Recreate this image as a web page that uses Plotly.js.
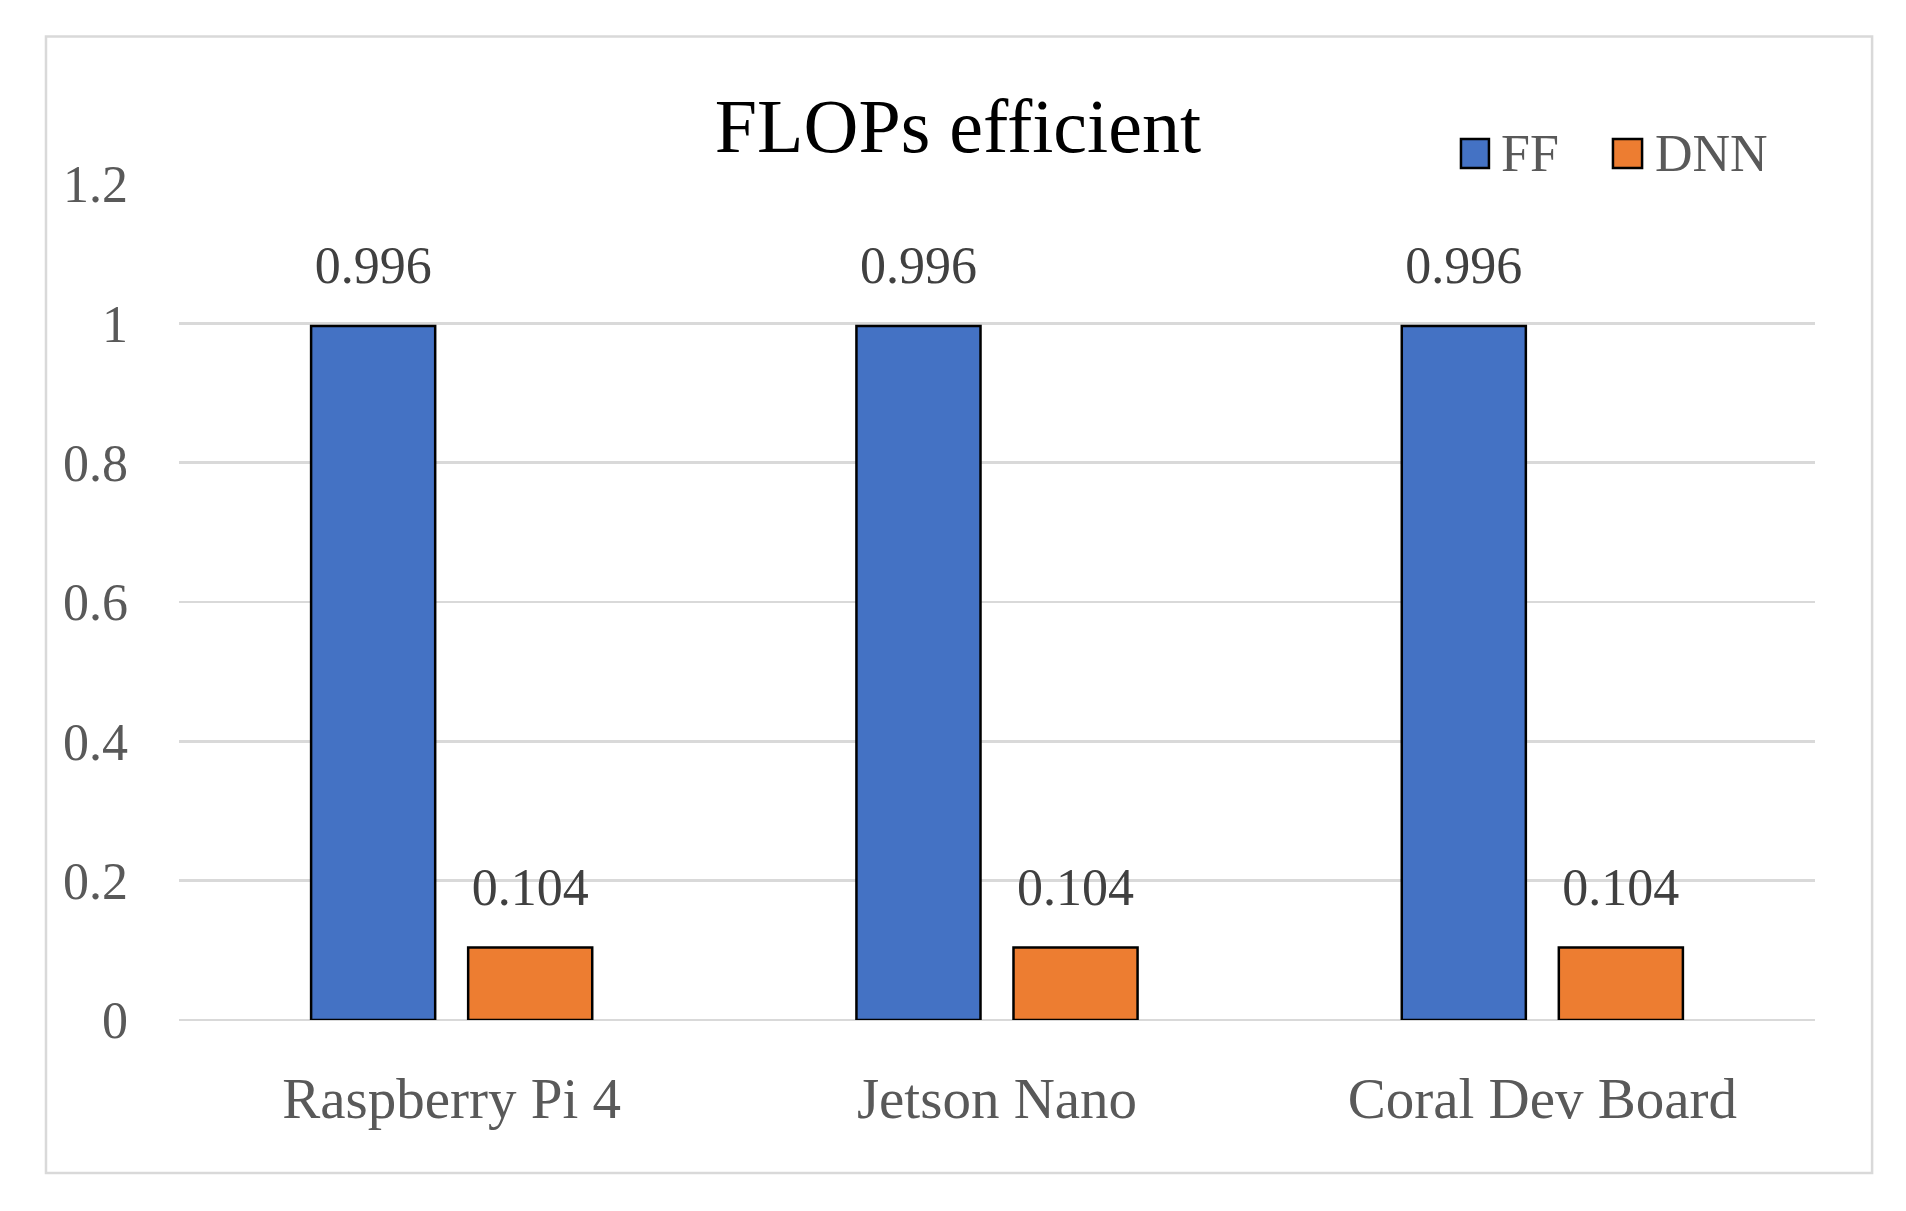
<!DOCTYPE html>
<html>
<head>
<meta charset="utf-8">
<script src="https://cdn.plot.ly/plotly-3.0.1.min.js"></script>
<style>
html,body{margin:0;padding:0;background:#fff;}
#chart{width:1906px;height:1211px;}
</style>
</head>
<body>
<div id="chart"></div>
<script>
const categories = ["Raspberry Pi 4", "Jetson Nano", "Coral Dev Board"];
const seriesNames = ["FF", "DNN"];
const ffValues = [0.996, 0.996, 0.996];
const dnnValues = [0.104, 0.104, 0.104];
const yTickVals = [0, 0.2, 0.4, 0.6, 0.8, 1, 1.2];
const yTickText = ["0", "0.2", "0.4", "0.6", "0.8", "1", "1.2"];
const seriesColors = ["#4472C4", "#ED7D31"];

const FONT = "'Liberation Serif', 'Times New Roman', serif";
const seriesValues = [ffValues, dnnValues];

const barTraces = seriesValues.map((vals, i) => ({
  type: "bar", name: seriesNames[i], x: categories, y: vals,
  offsetgroup: String(i + 1), showlegend: false,
  marker: {color: seriesColors[i], line: {color: "#000000", width: 2.5}},
  hoverinfo: "skip"
}));

const labelTraces = seriesValues.map((vals, i) => ({
  type: "scatter", mode: "markers+text", name: seriesNames[i] + " labels",
  x: categories, y: vals, offsetgroup: String(i + 1), showlegend: false,
  marker: {size: 46, opacity: 0, color: seriesColors[i]},
  text: vals.map(v => v.toFixed(3)), textposition: "top center",
  textfont: {family: FONT, size: 52, color: "#404040"}, cliponaxis: false,
  hoverinfo: "skip"
}));

// custom legend (paper coordinates)
const legendBoxes = [
  {x0: 0.7836, x1: 0.8007, tx: 0.8068},
  {x0: 0.8765, x1: 0.8943, tx: 0.9010}
];
const legendShapes = legendBoxes.map((b, i) => ({
  type: "rect", xref: "paper", yref: "paper", x0: b.x0, x1: b.x1, y0: 1.0191, y1: 1.0538,
  fillcolor: seriesColors[i], line: {color: "#000000", width: 2.5}
}));
const legendLabels = legendBoxes.map((b, i) => ({
  xref: "paper", yref: "paper", x: b.tx, y: 1.0365, xanchor: "left", yanchor: "middle",
  text: seriesNames[i], showarrow: false,
  font: {family: FONT, size: 52, color: "#595959"}
}));

const layout = {
  width: 1906, height: 1211,
  margin: {l: 179, r: 91, t: 184, b: 191},
  paper_bgcolor: "#ffffff", plot_bgcolor: "#ffffff",
  font: {family: FONT, color: "#595959"},
  title: {text: "FLOPs efficient", font: {family: FONT, size: 76, color: "#000000"},
          x: 0.5026, xref: "container", y: 0.8968, yref: "container", yanchor: "middle", xanchor: "center"},
  barmode: "group", bargap: 0.424, bargroupgap: 0.21,
  scattermode: "group", scattergap: 0.424,
  showlegend: false,
  xaxis: {type: "category", showgrid: false, showline: false, ticks: "",
          tickfont: {family: FONT, size: 57, color: "#595959"}, ticklabelstandoff: 40,
          fixedrange: true},
  yaxis: {range: [0, 1.2], tickvals: yTickVals, ticktext: yTickText, showgrid: true,
          gridcolor: "#D9D9D9", gridwidth: 2.5, zeroline: true, zerolinecolor: "#D9D9D9",
          zerolinewidth: 2.5, showline: false, ticks: "",
          tickfont: {family: FONT, size: 52, color: "#595959"}, ticklabelstandoff: 50,
          fixedrange: true},
  shapes: [
    {type: "rect", xref: "paper", yref: "paper", x0: -0.0813, x1: 1.0349, y0: -0.183, y1: 1.1764,
     line: {color: "#D9D9D9", width: 2.5}, fillcolor: "rgba(0,0,0,0)", layer: "below"}
  ].concat(legendShapes),
  annotations: legendLabels
};

Plotly.newPlot("chart", barTraces.concat(labelTraces), layout, {displayModeBar: false, staticPlot: true});
</script>
</body>
</html>
